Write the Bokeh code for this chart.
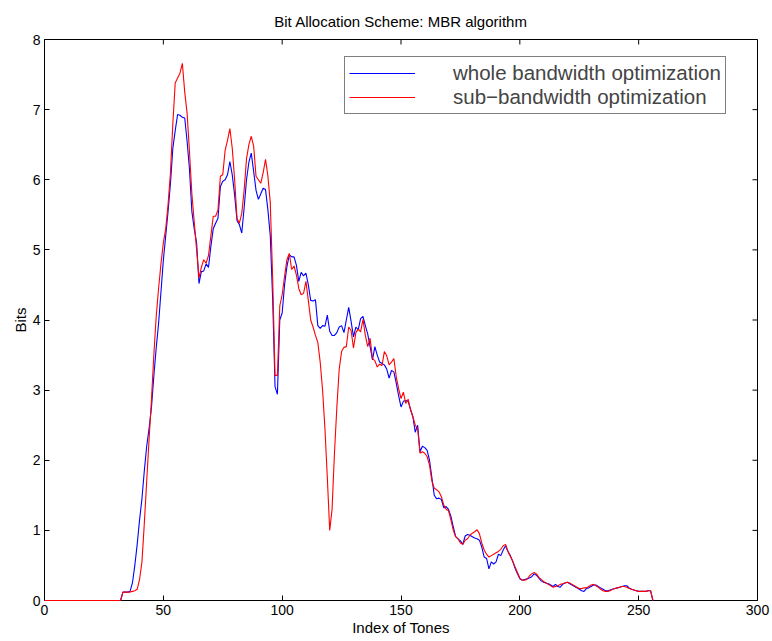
from bokeh.plotting import figure
from bokeh.models import Range1d, Legend, LegendItem, FixedTicker
from bokeh.embed import file_html
from bokeh.resources import INLINE

title_text = "Bit Allocation Scheme: MBR algorithm"
x_label = "Index of Tones"
y_label = "Bits"
series_names = ["whole bandwidth optimization", "sub\u2212bandwidth optimization"]
x_ticks = [0, 50, 100, 150, 200, 250, 300]
y_ticks = [0, 1, 2, 3, 4, 5, 6, 7, 8]

tones = list(range(0, 257))

whole_bits = [0.0] * 33 + [
    0.12, 0.12, 0.12, 0.13, 0.25, 0.5, 0.8, 1.15, 1.45, 1.85,      # 33-42
    2.2, 2.45, 2.75, 3.2, 3.6, 3.95, 4.4, 4.85, 5.2, 5.55,         # 43-52
    5.95, 6.45, 6.7, 6.93, 6.92, 6.89, 6.88, 6.55, 6.15, 5.55,     # 53-62
    5.3, 5.1, 4.52, 4.69, 4.7, 4.8, 4.75, 5.05, 5.3, 5.38,         # 63-72
    5.45, 5.9, 5.98, 6.0, 6.07, 6.26, 6.07, 5.78, 5.42, 5.36,      # 73-82
    5.24, 5.6, 6.0, 6.25, 6.38, 6.12, 5.85, 5.72, 5.8, 5.88,       # 83-92
    5.86, 5.57, 5.2, 4.3, 3.05, 2.94, 4.0, 4.1, 4.5, 4.76,         # 93-102
    4.93, 4.9, 4.9, 4.78, 4.55, 4.68, 4.63, 4.67, 4.5, 4.28,       # 103-112
    4.27, 4.29, 3.92, 3.88, 3.92, 3.91, 4.07, 3.84, 3.78, 3.78,    # 113-122
    3.82, 3.9, 3.92, 3.82, 4.0, 4.18, 3.98, 3.76, 3.9, 3.86,       # 123-132
    4.02, 4.05, 3.92, 3.8, 3.62, 3.43, 3.62, 3.5, 3.4, 3.38,       # 133-142
    3.36, 3.3, 3.17, 3.28, 3.26, 3.1, 2.92, 2.76, 2.84, 2.85,      # 143-152
    2.84, 2.73, 2.62, 2.4, 2.5, 2.12, 2.2, 2.18, 2.14, 2.0,        # 153-162
    1.75, 1.5, 1.45, 1.46, 1.44, 1.32, 1.34, 1.3, 1.2, 1.05,       # 163-172
    0.91, 0.88, 0.85, 0.8, 0.92, 0.94, 0.93, 0.91, 0.89, 0.88,     # 173-182
    0.86, 0.76, 0.62, 0.6, 0.45, 0.55, 0.52, 0.55, 0.66, 0.64,     # 183-192
    0.72, 0.78, 0.7, 0.64, 0.56, 0.46, 0.38, 0.31, 0.29, 0.3,      # 193-202
    0.31, 0.32, 0.34, 0.38, 0.36, 0.32, 0.28, 0.26, 0.25, 0.24,    # 203-212
    0.22, 0.2, 0.23, 0.2, 0.19, 0.23, 0.25, 0.26, 0.24, 0.22,      # 213-222
    0.2, 0.18, 0.16, 0.14, 0.13, 0.17, 0.18, 0.2, 0.22, 0.22,      # 223-232
    0.2, 0.18, 0.16, 0.14, 0.14, 0.15, 0.16, 0.17, 0.18, 0.19,     # 233-242
    0.2, 0.21, 0.21, 0.18, 0.16, 0.15, 0.14, 0.13, 0.13, 0.13,     # 243-252
    0.13, 0.14, 0.14, 0.0,                                         # 253-256
]

sub_bits = [0.0] * 33 + [
    0.12, 0.12, 0.12, 0.12, 0.13, 0.14, 0.16, 0.3, 0.55, 1.1,      # 33-42
    1.7, 2.3, 2.86, 3.5, 4.05, 4.45, 4.8, 5.1, 5.3, 5.65,          # 43-52
    6.1, 6.8, 7.38, 7.45, 7.52, 7.66, 7.25, 6.95, 6.4, 5.8,        # 53-62
    5.4, 5.0, 4.6, 4.75, 4.86, 4.81, 4.92, 5.2, 5.48, 5.48,        # 63-72
    5.57, 6.05, 6.07, 6.42, 6.56, 6.73, 6.45, 6.0, 5.45, 5.38,     # 73-82
    5.52, 5.85, 6.3, 6.5, 6.62, 6.48, 6.05, 6.0, 5.95, 6.1,        # 83-92
    6.29, 6.05, 5.67, 4.6, 3.21, 3.21, 4.2, 4.36, 4.62, 4.86,      # 93-102
    4.95, 4.72, 4.77, 4.64, 4.45, 4.36, 4.38, 4.55, 4.28, 4.0,     # 103-112
    3.9, 3.78, 3.68, 3.4, 3.0, 2.45, 1.75, 1.0, 1.3, 2.1,          # 113-122
    2.75, 3.3, 3.55, 3.61, 3.62, 3.9, 3.85, 3.6, 3.82, 3.87,       # 123-132
    3.83, 4.01, 3.78, 3.62, 3.74, 3.45, 3.42, 3.33, 3.37, 3.35,    # 133-142
    3.55, 3.49, 3.36, 3.4, 3.45, 3.19, 3.02, 2.88, 2.97, 2.81,     # 143-152
    2.87, 2.72, 2.62, 2.5, 2.45, 2.1, 2.12, 2.1, 2.05, 1.93,       # 153-162
    1.7, 1.6, 1.58, 1.55, 1.48, 1.36, 1.3, 1.28, 1.15, 1.0,        # 163-172
    0.91, 0.88, 0.82, 0.8, 0.86, 0.88, 0.93, 0.96, 0.98, 1.01,     # 173-182
    0.95, 0.82, 0.72, 0.66, 0.62, 0.64, 0.66, 0.68, 0.7, 0.73,     # 183-192
    0.78, 0.8, 0.7, 0.63, 0.56, 0.48, 0.4, 0.32, 0.29, 0.29,       # 193-202
    0.3, 0.35, 0.38, 0.4, 0.38, 0.33, 0.3, 0.27, 0.25, 0.23,       # 203-212
    0.21, 0.19, 0.2, 0.21, 0.23, 0.24, 0.25, 0.26, 0.25, 0.23,     # 213-222
    0.21, 0.19, 0.17, 0.17, 0.18, 0.18, 0.2, 0.22, 0.23, 0.21,     # 223-232
    0.19, 0.16, 0.14, 0.13, 0.13, 0.14, 0.16, 0.17, 0.18, 0.19,    # 233-242
    0.2, 0.2, 0.19, 0.17, 0.16, 0.15, 0.14, 0.13, 0.13, 0.13,      # 243-252
    0.13, 0.14, 0.14, 0.0,                                         # 253-256
]

FONT = "Liberation Sans"
X_MIN, X_MAX, Y_MIN, Y_MAX = 0, 300, 0, 8
FRAME_W, FRAME_H = 713, 561
TICK_PX = 5

p = figure(width=772, height=641, output_backend="svg", toolbar_location=None,
           x_range=Range1d(X_MIN, X_MAX), y_range=Range1d(Y_MIN, Y_MAX),
           frame_width=FRAME_W, frame_height=FRAME_H,
           min_border_left=44, min_border_right=15, min_border_top=39, min_border_bottom=41)
p.title.text = title_text
p.title.align = "center"
p.title.vertical_align = "bottom"
p.title.text_font = FONT
p.title.text_font_size = "15px"
p.title.text_font_style = "normal"
p.title.text_color = "black"
p.title.text_line_height = 0.8
p.title.standoff = 19

p.grid.visible = False
p.outline_line_color = "black"
p.outline_line_width = 1
p.background_fill_color = "white"
p.border_fill_color = "white"

for ax, tks in ((p.xaxis[0], x_ticks), (p.yaxis[0], y_ticks)):
    ax.ticker = FixedTicker(ticks=tks)
    ax.major_tick_in = TICK_PX
    ax.major_tick_out = 0
    ax.minor_tick_in = 0
    ax.minor_tick_out = 0
    ax.axis_line_color = "black"
    ax.major_tick_line_color = "black"
    ax.major_label_text_font = FONT
    ax.major_label_text_font_size = "14px"
    ax.major_label_text_color = "black"
    ax.axis_label_text_font = FONT
    ax.axis_label_text_font_size = "15px"
    ax.axis_label_text_font_style = "normal"
    ax.axis_label_text_color = "black"
    ax.major_label_standoff = 4
    ax.axis_label_standoff = 1

p.xaxis[0].axis_label = x_label
p.yaxis[0].axis_label = y_label

# inward ticks on the top and right edges of the box (MATLAB style)
dy = TICK_PX * (Y_MAX - Y_MIN) / FRAME_H
dx = TICK_PX * (X_MAX - X_MIN) / FRAME_W
p.segment(x0=x_ticks, x1=x_ticks, y0=[Y_MAX] * len(x_ticks), y1=[Y_MAX - dy] * len(x_ticks),
          line_color="black", line_width=1)
p.segment(x0=[X_MAX] * len(y_ticks), x1=[X_MAX - dx] * len(y_ticks), y0=y_ticks, y1=y_ticks,
          line_color="black", line_width=1)

r_whole = p.line(tones, whole_bits, line_color="#0000ff", line_width=1.1, level="overlay")
r_sub = p.line(tones, sub_bits, line_color="#ff0000", line_width=1.1, level="overlay")

legend = Legend(items=[LegendItem(label=series_names[0], renderers=[r_whole]),
                       LegendItem(label=series_names[1], renderers=[r_sub])],
                location=(300, 486), orientation="vertical",
                glyph_width=66, glyph_height=22, label_height=22,
                label_text_line_height=0.85,
                label_standoff=38, padding=4, spacing=0, margin=0,
                label_text_font=FONT, label_text_font_size="20.5px",
                border_line_color="black", border_line_width=1.5,
                background_fill_color="white", background_fill_alpha=1.0)
p.add_layout(legend, "center")

open("out.html", "w").write(file_html(p, INLINE))
